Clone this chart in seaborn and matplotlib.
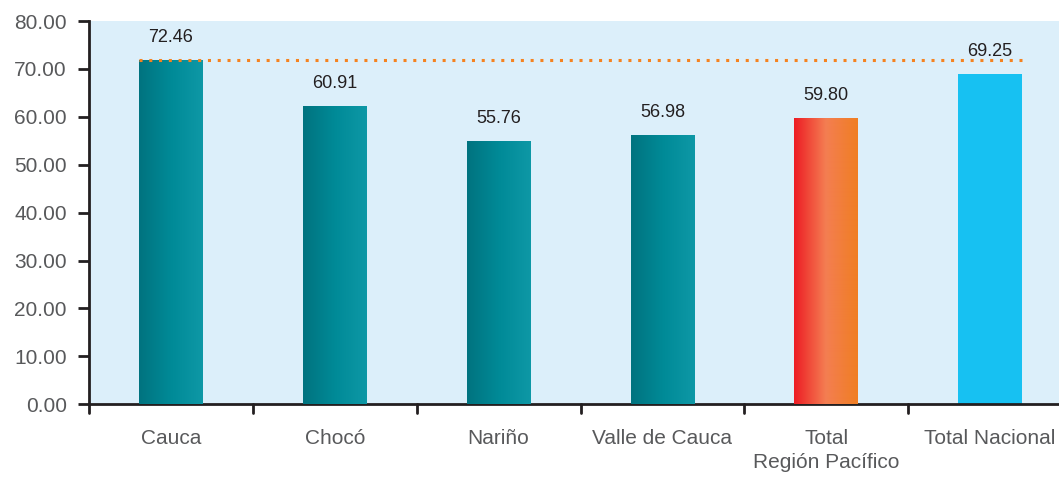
import numpy as np
import pandas as pd
import matplotlib.pyplot as plt
import seaborn as sns
from matplotlib.colors import LinearSegmentedColormap

# Datos
categorias = ["Cauca", "Chocó", "Nariño", "Valle de Cauca", "Total\nRegión Pacífico", "Total Nacional"]
alturas = [71.8, 62.2, 54.9, 56.2, 59.7, 68.9]
etiquetas = ["72.46", "60.91", "55.76", "56.98", "59.80", "69.25"]
grupo = ["dep", "dep", "dep", "dep", "region", "nacional"]

df = pd.DataFrame({"Categoria": categorias, "Valor": alturas, "Grupo": grupo})

sns.set_style("ticks")
plt.rcParams["font.family"] = ["Liberation Sans", "DejaVu Sans"]

fig = plt.figure(figsize=(10.59, 4.8), dpi=100)
ax = fig.add_axes([0.084, 0.158, 0.916, 0.798])
ax.set_facecolor("#DCEFFA")

paleta = {"dep": "#00838F", "region": "#F26A3C", "nacional": "#17C1F2"}
sns.barplot(data=df, x="Categoria", y="Valor", hue="Grupo", palette=paleta,
            dodge=False, width=0.39, legend=False, saturation=1, linewidth=0,
            ax=ax, zorder=2)

# Degradados horizontales en las barras
gradientes = {
    "dep": ["#00737F", "#008A97", "#0E98A6"],
    "region": ["#ED1C24", "#F47E52", "#F07E22"],
}
ax.set_ylim(0, 80)
ax.set_xlim(-0.5, 5.42)
for patch in ax.patches:
    x0 = patch.get_x()
    w = patch.get_width()
    h = patch.get_height()
    if w == 0 or h == 0:
        continue
    idx = int(round(x0 + w / 2))
    g = grupo[idx]
    if g in gradientes:
        cmap = LinearSegmentedColormap.from_list(g, gradientes[g])
        grad = np.linspace(0, 1, 256).reshape(1, -1)
        im = ax.imshow(grad, cmap=cmap, aspect="auto", extent=[x0, x0 + w, 0, h], zorder=3)
        im.set_clip_path(patch)

# Línea punteada de referencia
ancho = 0.39
ax.hlines(alturas[0], 0 - ancho / 2, len(categorias) - 1 + ancho / 2,
          colors="#F5821F", linestyles=(0, (1, 2.2)), linewidth=2.2, zorder=4)

# Etiquetas de valores
for i, (h, t) in enumerate(zip(alturas, etiquetas)):
    ax.text(i, h + 4.8, t, ha="center", va="center", fontsize=13, color="#231F20", zorder=5)

ax.set_yticks(np.arange(0, 81, 10))
ax.set_yticklabels([f"{v:.2f}" for v in np.arange(0, 81, 10)], fontsize=15, color="#58595B")
ax.set_xticks(range(len(categorias)))
ax.set_xticklabels(categorias, fontsize=15, color="#58595B", linespacing=1.3)
ax.tick_params(axis="x", length=0, pad=18)
ax.tick_params(axis="y", length=8, width=2, color="#231F20", pad=8)

# Marcas del eje x en los límites de cada categoría
for b in np.arange(-0.5, len(categorias), 1.0):
    ax.plot([b, b], [0, -0.022], transform=ax.get_xaxis_transform(), color="#231F20",
            linewidth=2, clip_on=False, zorder=6)

ax.set_xlabel("")
ax.set_ylabel("")
for s in ["top", "right"]:
    ax.spines[s].set_visible(False)
ax.spines["left"].set_linewidth(2)
ax.spines["left"].set_color("#231F20")
ax.spines["bottom"].set_linewidth(2)
ax.spines["bottom"].set_color("#231F20")

fig.savefig("out.png", dpi=100)
